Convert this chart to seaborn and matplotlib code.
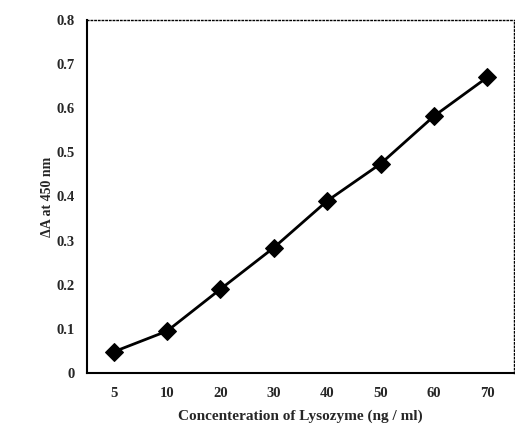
import pandas as pd
import matplotlib.pyplot as plt
import numpy as np
import seaborn as sns

# data
concentration = ['5', '10', '20', '30', '40', '50', '60', '70']
delta_a = [0.048, 0.095, 0.19, 0.284, 0.39, 0.474, 0.582, 0.67]
y_ticks = [0, 0.1, 0.2, 0.3, 0.4, 0.5, 0.6, 0.7, 0.8]
y_tick_labels = ['0', '0.1', '0.2', '0.3', '0.4', '0.5', '0.6', '0.7', '0.8']

df = pd.DataFrame({'conc': concentration, 'dA': delta_a})

sns.set_style('white')
plt.rcParams['font.family'] = ['Liberation Serif', 'DejaVu Serif']

fig = plt.figure(figsize=(5.15, 4.34), dpi=100)
ax = fig.add_axes([0.169, 0.1406, 0.829, 0.8134])

sns.lineplot(data=df, x='conc', y='dA', marker='D', markersize=9, color='black',
             linewidth=2, markeredgecolor='black', ax=ax)

ax.set_xlim(-0.5, 7.5)
ax.set_ylim(0, 0.8)
ax.set_yticks(y_ticks)
ax.set_yticklabels(y_tick_labels, fontsize=10.5, fontweight='bold')

# labels at category centres, small tick marks at the boundaries
ax.set_xticks(np.arange(len(concentration)))
ax.set_xticklabels(concentration, fontsize=10.5, fontweight='bold')
ax.set_xticks(np.arange(len(concentration) + 1) - 0.5, minor=True)
ax.tick_params(axis='x', which='major', length=0, pad=10)
ax.tick_params(axis='x', which='minor', length=3, direction='in', width=1)
ax.tick_params(axis='y', length=4, direction='out', width=1, pad=5)

for side in ['left', 'bottom']:
    ax.spines[side].set_linewidth(1.5)
    ax.spines[side].set_color('black')
for side in ['top', 'right']:
    ax.spines[side].set_linestyle(':')
    ax.spines[side].set_linewidth(1)
    ax.spines[side].set_color('black')

ax.set_xlabel('Concenteration of Lysozyme (ng / ml)', fontsize=11, fontweight='bold', labelpad=7)
ax.set_ylabel('ΔA at 450 nm', fontsize=10, fontweight='bold', labelpad=2)

fig.savefig('out.png', dpi=100)
